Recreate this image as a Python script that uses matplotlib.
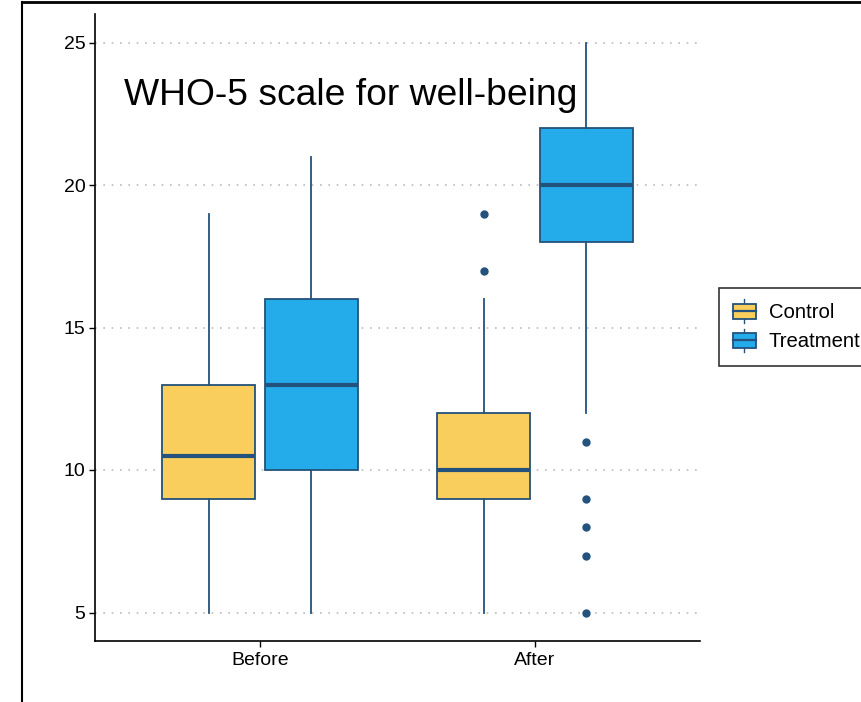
import numpy as np
import matplotlib
matplotlib.use("Agg")
import matplotlib.pyplot as plt
from matplotlib.legend_handler import HandlerBase
from matplotlib.patches import Rectangle
from matplotlib.lines import Line2D

plt.rcParams['font.family'] = ['Liberation Sans', 'DejaVu Sans']

# Data
periods = ['Before', 'After']
groups = ['Control', 'Treatment']
# per group, per period: (whislo, q1, med, q3, whishi)
control_stats = [(5, 9, 10.5, 13, 19), (5, 9, 10, 12, 16)]
treatment_stats = [(5, 10, 13, 16, 21), (12, 18, 20, 22, 25)]
control_fliers = [[], [17, 19]]
treatment_fliers = [[], [11, 9, 8, 7, 5]]
y_ticks = [5, 10, 15, 20, 25]

fill_colors = {'Control': '#F9CE5D', 'Treatment': '#24ABE9'}
edge_color = '#23527C'

fig = plt.figure(figsize=(8.61, 7.02), dpi=100)
ax = fig.add_axes([95 / 861, 1 - 641 / 702, 605 / 861, 627 / 702])

box_w = 0.34
offsets = {'Control': -0.187, 'Treatment': 0.187}
all_stats = {'Control': (control_stats, control_fliers),
             'Treatment': (treatment_stats, treatment_fliers)}

for g in groups:
    stats, fliers = all_stats[g]
    bxp_stats = []
    for i, (lo, q1, med, q3, hi) in enumerate(stats):
        bxp_stats.append(dict(whislo=lo, q1=q1, med=med, q3=q3, whishi=hi,
                              fliers=fliers[i]))
    pos = [i + 1 + offsets[g] for i in range(len(periods))]
    ax.bxp(bxp_stats, positions=pos, widths=box_w, patch_artist=True,
           showcaps=False,
           boxprops=dict(facecolor=fill_colors[g], edgecolor=edge_color, linewidth=1.3),
           medianprops=dict(color=edge_color, linewidth=3, solid_capstyle='butt'),
           whiskerprops=dict(color=edge_color, linewidth=1.3),
           flierprops=dict(marker='o', markerfacecolor=edge_color, markeredgecolor=edge_color,
                           markersize=5),
           zorder=3)

ax.set_xlim(0.4, 2.6)
ax.set_ylim(4, 26)
ax.set_xticks([1, 2])
ax.set_xticklabels(periods)
ax.set_yticks(y_ticks)
ax.tick_params(axis='both', labelsize=14, length=4, width=1, colors='black', pad=3)
ax.tick_params(axis='x', pad=4)
ax.yaxis.grid(True, linestyle=(0, (1, 4)), color='#bbbbbb', linewidth=1.2)
ax.set_axisbelow(True)
for s in ['top', 'right']:
    ax.spines[s].set_visible(False)
for s in ['left', 'bottom']:
    ax.spines[s].set_linewidth(1.2)

ax.text(0.048, 0.87, 'WHO-5 scale for well-being', transform=ax.transAxes,
        fontsize=26.8, ha='left', va='center')


class BoxHandler(HandlerBase):
    def __init__(self, color):
        super().__init__()
        self.color = color

    def create_artists(self, legend, orig_handle, xdescent, ydescent, width, height,
                       fontsize, trans):
        cx = -xdescent + width / 2
        bw = width
        h = height
        rect = Rectangle((cx - bw / 2, -ydescent + h * 0.1), bw, h * 0.8,
                         facecolor=self.color, edgecolor=edge_color, lw=1.3, transform=trans)
        med = Line2D([cx - bw / 2, cx + bw / 2], [-ydescent + h / 2] * 2,
                     color=edge_color, lw=1.6, transform=trans)
        wl = Line2D([cx, cx], [-ydescent - h * 0.15, -ydescent + h * 0.1],
                    color=edge_color, lw=1.0, transform=trans)
        wh = Line2D([cx, cx], [-ydescent + h * 0.9, -ydescent + h * 1.15],
                    color=edge_color, lw=1.0, transform=trans)
        return [wl, wh, rect, med]


handles = [Rectangle((0, 0), 1, 1) for g in groups]
leg = fig.legend(handles, groups, loc='upper left', bbox_to_anchor=(719 / 861, 1 - 288 / 702),
                 frameon=True, fancybox=False, edgecolor='black', fontsize=14.6,
                 handlelength=1.1, handleheight=1.0, handletextpad=0.65,
                 borderpad=0.7, labelspacing=0.45, borderaxespad=0,
                 handler_map={h: BoxHandler(fill_colors[g]) for h, g in zip(handles, groups)})
leg.get_frame().set_linewidth(1.2)

# outer frame of the cropped figure
fig.add_artist(Line2D([22 / 861, 22 / 861], [0, 1 - 2 / 702], transform=fig.transFigure,
                      color='black', lw=1.5))
fig.add_artist(Line2D([22 / 861, 1], [1 - 2 / 702, 1 - 2 / 702], transform=fig.transFigure,
                      color='black', lw=2))

fig.savefig('out.png', dpi=100)
